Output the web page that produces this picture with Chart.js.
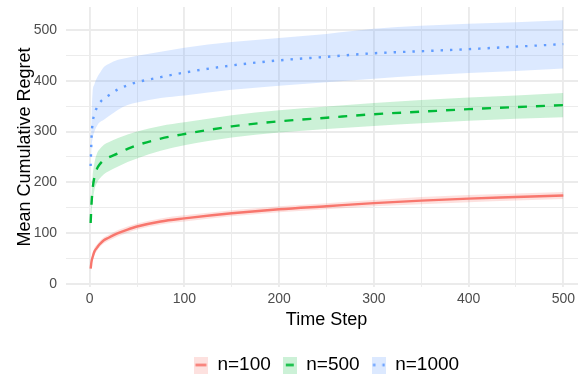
<!DOCTYPE html>
<html><head><meta charset="utf-8">
<script src="https://cdn.jsdelivr.net/npm/chart.js@4/dist/chart.umd.min.js"></script>
<style>
html,body{margin:0;padding:0;background:#fff;overflow:hidden;}
#wrap{width:587px;height:375px;position:relative;}
</style></head><body>
<div id="wrap"><canvas id="c"></canvas></div>
<script>
const timeSteps = [1,2,3,5,8,10,15,20,30,40,50,75,100,150,200,250,300,350,400,450,500];
const seriesLabels = ['n=100','n=500','n=1000'];

const n100Mean  = [30,45,52,64,72,77,86,91,100,107,113,123,129,139,147,153,159,164,168,171,174];
const n100Lower = [24,38,45,57,66,71,80,85,94,101,107,117,123,133,141,147,153,157,161,164,167];
const n100Upper = [36,52,59,71,78,83,92,97,106,113,119,129,135,145,153,159,165,171,175,178,181];

const n500Mean  = [120,160,185,210,228,234,244,249,257,266,273,286,295,310,320,327,334,339,344,348,352];
const n500Lower = [112,140,160,185,200,206,216,222,231,240,247,262,273,288,298,305,311,316,321,325,328];
const n500Upper = [128,180,210,238,258,264,274,279,287,294,300,311,318,332,342,349,356,362,367,371,376];

const n1000Mean  = [232,290,315,335,348,355,365,371,383,391,397,407,416,430,440,447,454,458,462,467,472];
const n1000Lower = [225,270,285,300,312,317,323,330,343,352,357,366,371,382,390,397,404,410,415,419,424];
const n1000Upper = [240,330,375,393,407,413,427,433,441,445,449,457,465,476,484,492,502,508,512,515,519];

const xTickLabels = [0,100,200,300,400,500];
const yTickLabels = [0,100,200,300,400,500];
const xGrid = [0,50,100,150,200,250,300,350,400,450,500];
const yGrid = [0,50,100,150,200,250,300,350,400,450,500];

const lineColors = ['#F8766D','#00BA38','#619CFF'];
const ribbonColors = ['rgba(248,118,109,0.22)','rgba(0,186,56,0.2)','rgba(97,156,255,0.22)'];
const dashes = [[], [9,9], [2.4,7]];
const FONT = "'Liberation Sans', Arial, Helvetica, sans-serif";

const means = [n100Mean, n500Mean, n1000Mean];
const lowers = [n100Lower, n500Lower, n1000Lower];
const uppers = [n100Upper, n500Upper, n1000Upper];

const pts = arr => timeSteps.map((t,i)=>({x:t, y:arr[i]}));

const datasets = [];
for (let i=0;i<3;i++){
  datasets.push({label:'lo'+i, data:pts(lowers[i]), borderWidth:0, pointRadius:0, fill:false, order:3, cubicInterpolationMode:'monotone', borderColor:'rgba(0,0,0,0)'});
  datasets.push({label:'hi'+i, data:pts(uppers[i]), borderWidth:0, pointRadius:0, fill:3*i, backgroundColor:ribbonColors[i], order:3, cubicInterpolationMode:'monotone', borderColor:'rgba(0,0,0,0)'});
  datasets.push({label:seriesLabels[i], data:pts(means[i]), borderWidth:2.4, borderColor:lineColors[i], borderDash:dashes[i], pointRadius:0, fill:false, order:1, cubicInterpolationMode:'monotone', borderCapStyle:'butt'});
}

function keyCanvas(i){
  const c = document.createElement('canvas');
  c.width = 14; c.height = 17;
  const g = c.getContext('2d');
  g.fillStyle = ribbonColors[i];
  g.fillRect(0,0,14,17);
  g.strokeStyle = lineColors[i];
  g.lineWidth = 2.4;
  g.lineCap = 'butt';
  g.beginPath();
  if (i===0){ g.moveTo(1.5,8.5); g.lineTo(12.5,8.5); }
  else if (i===1){ g.moveTo(3,8.5); g.lineTo(11,8.5); }
  else { g.setLineDash([2.4,7]); g.moveTo(1.3,8.5); g.lineTo(13,8.5); }
  g.stroke();
  return c;
}
const keys = [0,1,2].map(keyCanvas);

new Chart(document.getElementById('c'), {
  type:'line',
  data:{datasets},
  options:{
    responsive:true, maintainAspectRatio:false, animation:false,
    layout:{padding:{top:7,left:0,right:0,bottom:-9.5}},
    scales:{
      x:{type:'linear', min:-25, max:525,
        afterBuildTicks:s=>{s.ticks = xGrid.map(v=>({value:v}));},
        afterFit:s=>{s.height=56.5; s.paddingLeft=0; s.paddingRight=0;},
        grid:{color:'#EBEBEB', lineWidth:ctx=> (ctx.tick && ctx.tick.value%100===0)?1.9:0.95, drawTicks:false},
        border:{display:false},
        ticks:{padding:4, color:'#4D4D4D', font:{family:FONT,size:14}, maxRotation:0, autoSkip:false,
          callback:v=> xTickLabels.includes(v)?String(v):''},
        title:{display:true, text:'Time Step', color:'#000', font:{family:FONT,size:18}, padding:{top:0,bottom:12.7}}
      },
      y:{type:'linear', min:-6, max:545,
        afterBuildTicks:s=>{s.ticks = yGrid.map(v=>({value:v}));},
        afterFit:s=>{s.width=66; s.paddingTop=0; s.paddingBottom=0;},
        grid:{color:'#EBEBEB', lineWidth:ctx=> (ctx.tick && ctx.tick.value%100===0)?1.9:0.95, drawTicks:false},
        border:{display:false},
        ticks:{padding:9, color:'#4D4D4D', font:{family:FONT,size:14}, autoSkip:false,
          callback:v=> yTickLabels.includes(v)?String(v):''},
        title:{display:true, text:'Mean Cumulative Regret', color:'#000', font:{family:FONT,size:18}, padding:{top:14,bottom:0}}
      }
    },
    plugins:{
      tooltip:{enabled:false},
      legend:{position:'bottom', fullSize:false, align:'center',
        labels:{usePointStyle:true, pointStyleWidth:14, padding:12, color:'#000', font:{family:FONT,size:19},
          generateLabels:()=> seriesLabels.map((lab,i)=>({text:lab, pointStyle:keys[i], fillStyle:ribbonColors[i], strokeStyle:lineColors[i], lineWidth:0, hidden:false, datasetIndex:3*i+2, fontColor:'#000'}))
        }
      }
    }
  }
});
</script>
</body></html>
